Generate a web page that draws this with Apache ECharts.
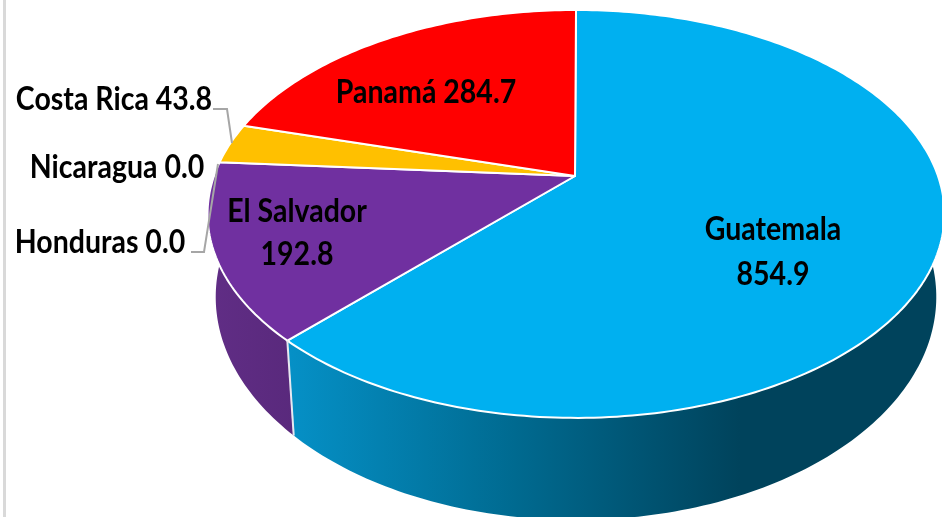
<!DOCTYPE html>
<html>
<head>
<meta charset="utf-8">
<title>Pie</title>
<style>
  html, body { margin: 0; padding: 0; background: #fff; }
  #container { width: 942px; height: 517px; }
</style>
<script src="https://cdn.jsdelivr.net/npm/echarts@6/dist/echarts.min.js"></script>
</head>
<body>
<div id="container"></div>
<script>
const countries = ['Guatemala', 'El Salvador', 'Honduras', 'Nicaragua', 'Costa Rica', 'Panamá'];
const amounts = [854.9, 192.8, 0.0, 0.0, 43.8, 284.7];
const topColors = ['#00B0F0', '#7030A0', '#4472C4', '#70AD47', '#FFC000', '#FF0000'];

// perspective of the tilted disc, top face and bottom face
const tilt = 0.186;
const apex = [575, 176];
const topFace = { cx: 576, cy: 176, rx: 362, ry: 196.9 };
const bottomFace = { cx: 576, cy: 255.5, rx: 354, ry: 215.3 };
// only this part of the rim faces the viewer (degrees clockwise from 12 o'clock)
const rimFrom = 85;
const rimTo = 274;

const total = amounts.reduce(function (a, b) { return a + b; }, 0);

function sliceAngles(index) {
    let sum = 0;
    for (let i = 0; i < index; i++) sum += amounts[i];
    return [sum / total * 360, (sum + amounts[index]) / total * 360];
}

function project(face, deg) {
    const rad = deg * Math.PI / 180;
    const u = Math.sin(rad);
    const v = Math.cos(rad);
    const w = 1 + tilt * v;
    return [face.cx + u * face.rx / w, face.cy - v * face.ry / w];
}

function arc(face, from, to) {
    const pts = [];
    const steps = Math.max(2, Math.ceil(Math.abs(to - from)));
    for (let i = 0; i <= steps; i++) {
        pts.push(project(face, from + (to - from) * i / steps));
    }
    return pts;
}

function renderRim(params, api) {
    const angles = sliceAngles(params.dataIndex);
    const from = Math.max(angles[0], rimFrom);
    const to = Math.min(angles[1], rimTo);
    if (to <= from) return { type: 'group', children: [] };
    const pts = arc(topFace, from, to).concat(arc(bottomFace, to, from));
    const fill = params.dataIndex === 0
        ? new echarts.graphic.LinearGradient(290, 0, 740, 0, [
            { offset: 0, color: '#0590C6' },
            { offset: 0.5, color: '#006A90' },
            { offset: 1, color: '#00435C' }
        ], true)
        : new echarts.graphic.LinearGradient(213, 0, 295, 0, [
            { offset: 0, color: '#602D85' },
            { offset: 1, color: '#59297C' }
        ], true);
    return {
        type: 'polygon',
        shape: { points: pts },
        style: { fill: fill }
    };
}

function renderTop(params, api) {
    const angles = sliceAngles(params.dataIndex);
    if (angles[1] <= angles[0]) return { type: 'group', children: [] };
    const pts = [apex].concat(arc(topFace, angles[0], angles[1]));
    return {
        type: 'polygon',
        shape: { points: pts },
        style: { fill: topColors[params.dataIndex], stroke: '#fff', lineWidth: 2, lineJoin: 'round' }
    };
}

function label(text, x, y) {
    return {
        type: 'text',
        x: x,
        y: y,
        scaleY: 1.12,
        style: {
            text: text,
            fill: '#000',
            font: 'bold 28.5px Lato',
            align: 'center', verticalAlign: 'middle'
        },
        z: 10
    };
}

function leader(points) {
    return {
        type: 'polyline',
        shape: { points: points },
        style: { stroke: '#A6A6A6', lineWidth: 2, fill: null },
        z: 9
    };
}

function fmt(i) { return amounts[i].toFixed(1); }

const seamAngle = sliceAngles(0)[1];

const option = {
    animation: false,
    graphic: [{
        type: 'rect',
        shape: { x: 3, y: 0, width: 3, height: 517 },
        style: { fill: '#D9D9D9' }
    }, {
        type: 'polyline',
        shape: { points: [project(topFace, seamAngle), project(bottomFace, seamAngle)] },
        style: { stroke: '#E8E8F0', lineWidth: 2, fill: null },
        z: 5
    },
    leader([[213, 109], [227, 109], [232, 143]]),
    leader([[191, 252], [204, 252], [218, 164]]),
    label(countries[0], 773, 230),
    label(fmt(0), 773, 275),
    label(countries[1], 297, 212),
    label(fmt(1), 297, 255),
    label(countries[5] + ' ' + fmt(5), 426, 93),
    label(countries[4] + ' ' + fmt(4), 114, 100),
    label(countries[3] + ' ' + fmt(3), 117, 168),
    label(countries[2] + ' ' + fmt(2), 100, 243)
    ],
    series: [{
        type: 'custom',
        coordinateSystem: 'none',
        renderItem: renderRim,
        silent: true,
        z: 1,
        data: amounts
    }, {
        type: 'custom',
        coordinateSystem: 'none',
        renderItem: renderTop,
        silent: true,
        z: 2,
        data: amounts
    }]
};

const chart = echarts.init(document.getElementById('container'));
chart.setOption(option);
</script>
</body>
</html>
